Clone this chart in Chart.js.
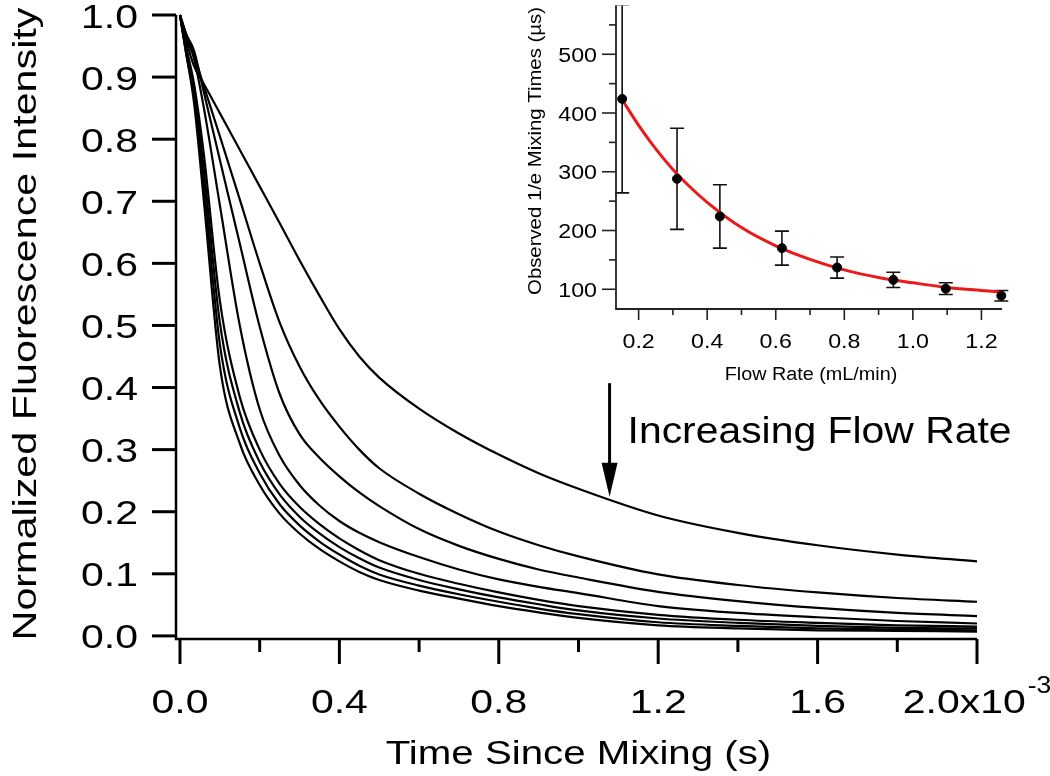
<!DOCTYPE html>
<html>
<head>
<meta charset="utf-8">
<script src="https://cdn.jsdelivr.net/npm/chart.js@4.4.1/dist/chart.umd.min.js"></script>
<style>
  body { margin: 0; background: #fff; }
  #wrap { position: relative; width: 1050px; height: 776px; }
  #main { position: absolute; left: 0; top: 0; }
  #inset { position: absolute; left: 480px; top: 0; }
</style>
</head>
<body>
<div id="wrap">
  <canvas id="main" width="1050" height="776"></canvas>
  <canvas id="inset" width="570" height="400"></canvas>
</div>
<script>
// main plot: time in units of 1e-3 s
var times = [0, 0.015, 0.035, 0.06, 0.1, 0.15, 0.2, 0.25, 0.3, 0.35, 0.4, 0.45, 0.5, 0.6, 0.7, 0.8, 0.9, 1.0, 1.2, 1.4, 1.6, 1.8, 2.0]
var trace1 = [1.0, 0.96, 0.918, 0.889, 0.842, 0.783, 0.724, 0.665, 0.605, 0.548, 0.494, 0.45, 0.416, 0.366, 0.326, 0.292, 0.262, 0.237, 0.194, 0.166, 0.146, 0.131, 0.12]
var trace2 = [1.0, 0.97, 0.935, 0.885, 0.805, 0.703, 0.60, 0.505, 0.434, 0.38, 0.337, 0.30, 0.27, 0.229, 0.196, 0.168, 0.146, 0.128, 0.099, 0.082, 0.07, 0.061, 0.055]
var trace3 = [1.0, 0.97, 0.943, 0.875, 0.767, 0.632, 0.498, 0.39, 0.325, 0.287, 0.257, 0.231, 0.209, 0.172, 0.145, 0.124, 0.107, 0.094, 0.071, 0.056, 0.045, 0.037, 0.032]
var trace4 = [1.0, 0.965, 0.93, 0.85, 0.694, 0.50, 0.365, 0.29, 0.243, 0.21, 0.185, 0.166, 0.151, 0.127, 0.107, 0.091, 0.079, 0.069, 0.048, 0.037, 0.03, 0.024, 0.02]
var trace5 = [1.0, 0.95, 0.89, 0.775, 0.54, 0.385, 0.30, 0.245, 0.208, 0.18, 0.157, 0.138, 0.122, 0.10, 0.084, 0.07, 0.058, 0.048, 0.034, 0.026, 0.021, 0.017, 0.015]
var trace6 = [1.0, 0.945, 0.88, 0.75, 0.505, 0.36, 0.28, 0.228, 0.192, 0.165, 0.143, 0.125, 0.11, 0.09, 0.075, 0.062, 0.051, 0.041, 0.028, 0.021, 0.016, 0.013, 0.012]
var trace7 = [1.0, 0.94, 0.87, 0.725, 0.47, 0.335, 0.262, 0.212, 0.178, 0.152, 0.131, 0.113, 0.099, 0.081, 0.067, 0.055, 0.044, 0.035, 0.022, 0.016, 0.012, 0.01, 0.009]
var trace8 = [1.0, 0.94, 0.86, 0.70, 0.435, 0.31, 0.243, 0.197, 0.165, 0.14, 0.12, 0.103, 0.09, 0.073, 0.06, 0.048, 0.038, 0.029, 0.017, 0.012, 0.009, 0.008, 0.007]
var traces = [trace1, trace2, trace3, trace4, trace5, trace6, trace7, trace8]

var xMajor = [0, 0.4, 0.8, 1.2, 1.6, 2.0]
var xLabels = ['0.0', '0.4', '0.8', '1.2', '1.6', '2.0x10']
var xMinor = [0.2, 0.6, 1.0, 1.4, 1.8]
var yMajor = [0, 0.1, 0.2, 0.3, 0.4, 0.5, 0.6, 0.7, 0.8, 0.9, 1.0]
var yLabels = ['0.0', '0.1', '0.2', '0.3', '0.4', '0.5', '0.6', '0.7', '0.8', '0.9', '1.0']

// inset: mixing time vs flow rate
var flowRate = [0.152, 0.312, 0.437, 0.618, 0.779, 0.943, 1.096, 1.258]
var mixTime = [424, 288, 224, 170, 137, 116, 101, 89]
var mixErr = [160, 86, 54, 29, 18, 13, 10, 9]
var fitX = [0.155, 0.2, 0.25, 0.3, 0.35, 0.4, 0.5, 0.6, 0.7, 0.8, 0.9, 1.0, 1.1, 1.2, 1.26]
var fitY = [420, 379, 339, 304, 274, 248, 205, 174, 151, 133, 120, 111, 103, 98, 95]

var flowTicks = [0.2, 0.4, 0.6, 0.8, 1.0, 1.2]
var flowLabels = ['0.2', '0.4', '0.6', '0.8', '1.0', '1.2']
var flowMinor = [0.3, 0.5, 0.7, 0.9, 1.1]
var timeTicks = [100, 200, 300, 400, 500]
var timeLabels = ['100', '200', '300', '400', '500']
var timeMinor = [150, 250, 350, 450, 550]

var FONT = '"Liberation Sans", Arial, sans-serif'

function txt(ctx, s, x, y, size, sx, align, rot) {
    ctx.save()
    ctx.translate(x, y)
    if (rot) ctx.rotate(rot)
    ctx.scale(sx, 1)
    ctx.font = size + 'px ' + FONT
    ctx.textAlign = align || 'left'
    ctx.textBaseline = 'alphabetic'
    ctx.fillStyle = '#000'
    ctx.fillText(s, 0, 0)
    ctx.restore()
}

function txtWidth(ctx, s, size, sx) {
    ctx.save()
    ctx.font = size + 'px ' + FONT
    var w = ctx.measureText(s).width * sx
    ctx.restore()
    return w
}

function line(ctx, x1, y1, x2, y2) {
    ctx.beginPath()
    ctx.moveTo(x1, y1)
    ctx.lineTo(x2, y2)
    ctx.stroke()
}

var mainAxes = {
    id: 'mainAxes',
    afterDraw: function (chart) {
        var ctx = chart.ctx, a = chart.chartArea, sx = chart.scales.x, sy = chart.scales.y
        ctx.save()
        ctx.strokeStyle = '#000'
        ctx.lineWidth = 2.5
        ctx.beginPath()
        ctx.moveTo(a.left, a.top)
        ctx.lineTo(a.left, a.bottom)
        ctx.lineTo(a.right, a.bottom)
        ctx.stroke()
        ctx.lineWidth = 3
        yMajor.forEach(function (v, i) {
            var py = sy.getPixelForValue(v)
            line(ctx, a.left, py, a.left - 24, py)
            txt(ctx, yLabels[i], a.left - 38, py + 12.5, 32.5, 1.26, 'right')
        })
        xMinor.forEach(function (v) {
            var px = sx.getPixelForValue(v)
            line(ctx, px, a.bottom, px, a.bottom + 13)
        })
        xMajor.forEach(function (v, i) {
            var px = sx.getPixelForValue(v)
            line(ctx, px, a.bottom, px, a.bottom + 25)
            if (i < xMajor.length - 1) {
                txt(ctx, xLabels[i], px, a.bottom + 74, 32.5, 1.26, 'center')
            } else {
                var wM = txtWidth(ctx, xLabels[i], 32.5, 1.26)
                var wS = txtWidth(ctx, '-3', 23, 1.15)
                var x0 = px - (wM + wS + 2) / 2
                txt(ctx, xLabels[i], x0, a.bottom + 74, 32.5, 1.26, 'left')
                txt(ctx, '-3', x0 + wM + 2, a.bottom + 54, 23, 1.15, 'left')
            }
        })
        txt(ctx, 'Time Since Mixing (s)', (a.left + a.right) / 2 + 2, 764, 33, 1.22, 'center')
        txt(ctx, 'Normalized Fluorescence Intensity', 36, 324, 33, 1.25, 'center', -Math.PI / 2)

        // annotation arrow + label
        var ax = sx.getPixelForValue(1.078)
        var ay1 = sy.getPixelForValue(0.407), ay2 = sy.getPixelForValue(0.224)
        ctx.lineWidth = 3
        line(ctx, ax, ay1, ax, ay2 - 30)
        ctx.fillStyle = '#000'
        ctx.beginPath()
        ctx.moveTo(ax - 8, ay2 - 34)
        ctx.lineTo(ax + 8, ay2 - 34)
        ctx.lineTo(ax, ay2)
        ctx.closePath()
        ctx.fill()
        txt(ctx, 'Increasing Flow Rate', ax + 18, sy.getPixelForValue(0.311), 37.5, 1.09, 'left')
        ctx.restore()
    }
}

var insetAxes = {
    id: 'insetAxes',
    beforeDatasetsDraw: function (chart) {
        var ctx = chart.ctx, a = chart.chartArea, sx = chart.scales.x, sy = chart.scales.y
        ctx.save()
        ctx.beginPath()
        ctx.rect(a.left - 10, a.top, a.right - a.left + 20, a.bottom - a.top)
        ctx.clip()
        ctx.strokeStyle = '#111'
        ctx.lineWidth = 1.6
        flowRate.forEach(function (f, i) {
            var px = sx.getPixelForValue(f)
            var top = sy.getPixelForValue(mixTime[i] + mixErr[i])
            var bot = sy.getPixelForValue(mixTime[i] - mixErr[i])
            line(ctx, px, top, px, bot)
            line(ctx, px - 7, top, px + 7, top)
            line(ctx, px - 7, bot, px + 7, bot)
        })
        ctx.restore()
    },
    afterDraw: function (chart) {
        var ctx = chart.ctx, a = chart.chartArea, sx = chart.scales.x, sy = chart.scales.y
        ctx.save()
        ctx.strokeStyle = '#222'
        ctx.lineWidth = 1.8
        ctx.beginPath()
        ctx.moveTo(a.left, a.top)
        ctx.lineTo(a.left, a.bottom)
        ctx.lineTo(a.right, a.bottom)
        ctx.stroke()
        ctx.lineWidth = 1.6
        timeMinor.forEach(function (v) {
            var py = sy.getPixelForValue(v)
            line(ctx, a.left, py, a.left - 7, py)
        })
        timeTicks.forEach(function (v, i) {
            var py = sy.getPixelForValue(v)
            line(ctx, a.left, py, a.left - 14, py)
            txt(ctx, timeLabels[i], a.left - 19, py + 7.5, 20, 1.16, 'right')
        })
        flowMinor.forEach(function (v) {
            var px = sx.getPixelForValue(v)
            line(ctx, px, a.bottom, px, a.bottom + 6)
        })
        flowTicks.forEach(function (v, i) {
            var px = sx.getPixelForValue(v)
            line(ctx, px, a.bottom, px, a.bottom + 11)
            txt(ctx, flowLabels[i], px, a.bottom + 39, 20, 1.16, 'center')
        })
        txt(ctx, 'Flow Rate (mL/min)', 331, 380, 18, 1.1, 'center')
        txt(ctx, 'Observed 1/e Mixing Times (\u00b5s)', 61, 151, 18, 1.13, 'center', -Math.PI / 2)
        ctx.restore()
    }
}

var mainSets = traces.map(function (tr) {
    return {
        data: times.map(function (t, i) { return { x: t, y: tr[i] } }),
        borderColor: '#000',
        borderWidth: 2.2,
        pointRadius: 0,
        fill: false,
        cubicInterpolationMode: 'monotone',
        clip: 6
    }
})

var grafico = new Chart(document.getElementById('main'), {
    type: 'line',
    data: { datasets: mainSets },
    options: {
        responsive: false,
        animation: false,
        devicePixelRatio: 1,
        layout: { padding: { left: 176, top: 15, right: 73, bottom: 137 } },
        plugins: { legend: { display: false }, tooltip: { enabled: false } },
        scales: {
            x: { type: 'linear', min: -0.01, max: 2.0, display: false },
            y: { type: 'linear', min: -0.005, max: 1.0, display: false }
        }
    },
    plugins: [mainAxes]
})

var inset = new Chart(document.getElementById('inset'), {
    type: 'scatter',
    data: {
        datasets: [
            {
                data: flowRate.map(function (f, i) { return { x: f, y: mixTime[i] } }),
                pointRadius: 4.5,
                pointBackgroundColor: '#000',
                pointBorderColor: '#000',
                showLine: false,
                clip: 8
            },
            {
                data: fitX.map(function (f, i) { return { x: f, y: fitY[i] } }),
                showLine: true,
                borderColor: 'rgb(235,25,25)',
                borderWidth: 3,
                pointRadius: 0,
                cubicInterpolationMode: 'monotone',
                clip: 4
            }
        ]
    },
    options: {
        responsive: false,
        animation: false,
        devicePixelRatio: 1,
        layout: { padding: { left: 136, top: 2, right: 48, bottom: 91 } },
        plugins: { legend: { display: false }, tooltip: { enabled: false } },
        scales: {
            x: { type: 'linear', min: 0.134, max: 1.26, display: false },
            y: { type: 'linear', min: 66.4, max: 583, display: false }
        }
    },
    plugins: [insetAxes]
})
</script>
</body>
</html>
